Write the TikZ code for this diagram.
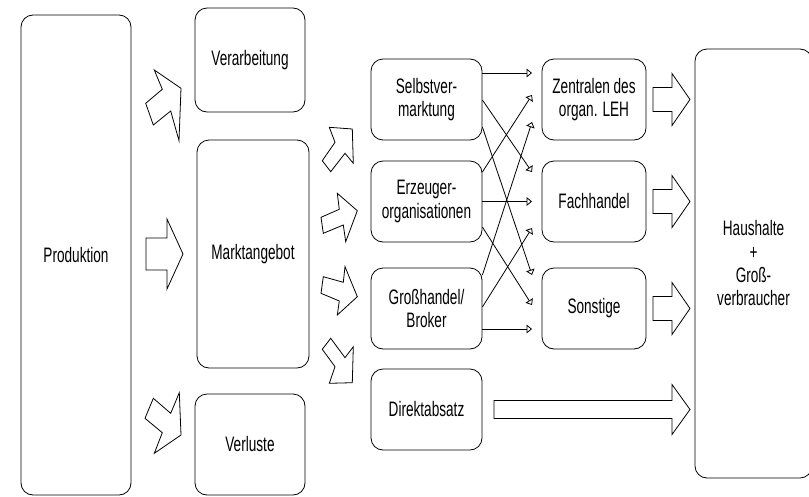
\documentclass[tikz,border=0pt]{standalone}
\usepackage{fontspec}
\setmainfont{Liberation Sans}[FakeStretch=0.65]
\usetikzlibrary{arrows.meta}
\tikzset{
  stelle/.style={draw,rounded corners=9pt,line width=0.6pt,inner sep=0pt,align=center,
    font=\fontsize{15.7}{17.5}\selectfont},
  dims/.style 2 args={minimum width=#1*0.75pt,minimum height=#2*0.75pt},
  blockpfeil/.style={draw,line width=0.6pt,line join=miter},
  fluss/.style={line width=0.6pt,-{Triangle[open,length=4pt,width=6.5pt]}}
}
\begin{document}
\begin{tikzpicture}[x=0.75pt,y=-0.75pt]
\useasboundingbox (0,0) rectangle (809,496);
% Erzeugung
\node[stelle,dims={110}{480}] (Prod) at (76,255) {Produktion};
\node[stelle,dims={110}{104}] (Verarb) at (250,60) {Verarbeitung};
\node[stelle,dims={112}{228}] (Markt) at (253,254) {Marktangebot};
\node[stelle,dims={110}{101}] (Verl) at (250,444.5) {Verluste};
% Absatzwege
\node[stelle,dims={111}{81}] (Selbst) at (426.5,99.5) {Selbstver-\\marktung};
\node[stelle,dims={111}{81}] (Erz) at (426.5,201.5) {Erzeuger-\\organisationen};
\node[stelle,dims={111}{81}] (Gross) at (426.5,308.5) {Gro\ss handel/\\Broker};
\node[stelle,dims={111}{81}] (Direkt) at (426.5,409.5) {Direktabsatz};
% Handel
\node[stelle,dims={104}{81}] (Zentr) at (594,99.5) {Zentralen des\\organ. LEH};
\node[stelle,dims={104}{81}] (Fach) at (594,201.5) {Fachhandel};
\node[stelle,dims={104}{81}] (Sonst) at (594,308.5) {Sonstige};
\node[stelle,dims={117}{429}] (Haus) at (753.5,263.5) {Haushalte\\+\\Gro\ss -\\verbraucher};
%
\coordinate (spitze) at (532,0);
%
% Pfeile Produktion -> Marktstufe
\draw[blockpfeil] (154.3,70) -- (162.3,89.3) -- (145.7,103.3) -- (153.3,125) -- (170.7,111) -- (179,140.7) -- (181,88.3) -- cycle;
\draw[blockpfeil] (146,238) -- (167,238) -- (167,219) -- (183,254) -- (167,289) -- (167,270) -- (146,270) -- cycle;
\draw[blockpfeil] (179.3,392.7) -- (170.7,413.3) -- (153.3,398.3) -- (145,418.3) -- (162.3,432.7) -- (154.3,453.3) -- (181,435) -- cycle;
%
% Pfeile Marktangebot -> Absatzwege
\draw[blockpfeil] (329.3,127.3) -- (352.3,129) -- (353.3,163.3) -- (345,153.3) -- (330.7,171.7) -- (322.3,160.7) -- (335,142.3) -- cycle;
\draw[blockpfeil] (337.3,193.3) -- (357.3,210.7) -- (345.7,241.7) -- (343.3,225) -- (323.3,233.3) -- (321,217.3) -- (339.3,209.3) -- cycle;
\draw[blockpfeil] (345,266.7) -- (357.3,296.7) -- (337.3,315) -- (339.3,301) -- (321,293.3) -- (323.3,276.7) -- (343.3,282.3) -- cycle;
\draw[blockpfeil] (353.3,346.7) -- (352.3,382.7) -- (329.3,383.3) -- (335,366.7) -- (322.3,349.3) -- (330.7,338.3) -- (345,357.7) -- cycle;
%
% Verflechtungen
\draw[fluss] (Selbst.east |- 0,73) -- (spitze |- 0,73);
\draw[fluss] (Selbst.east |- 0,100) -- (spitze |- 0,172);
\draw[fluss] (Selbst.east |- 0,127) -- (spitze |- 0,275);
\draw[fluss] (Erz.east |- 0,172) -- (spitze |- 0,95);
\draw[fluss] (Erz.east |- 0,201.5) -- (spitze |- 0,201.5);
\draw[fluss] (Erz.east |- 0,227) -- (spitze |- 0,305);
\draw[fluss] (Gross.east |- 0,275) -- (spitze |- 0,122);
\draw[fluss] (Gross.east |- 0,307) -- (spitze |- 0,228);
\draw[fluss] (Gross.east |- 0,329) -- (spitze |- 0,329);
%
% Pfeile zum Verbraucher
\draw[blockpfeil] (653,87.5) -- (672,87.5) -- (672,73.5) -- (690,99.5) -- (672,125.5) -- (672,111.5) -- (653,111.5) -- cycle;
\draw[blockpfeil] (653,189.5) -- (672,189.5) -- (672,175.5) -- (690,201.5) -- (672,227.5) -- (672,213.5) -- (653,213.5) -- cycle;
\draw[blockpfeil] (653,296.5) -- (672,296.5) -- (672,282.5) -- (690,308.5) -- (672,334.5) -- (672,320.5) -- (653,320.5) -- cycle;
\draw[blockpfeil] (494,400.5) -- (672,400.5) -- (672,384.5) -- (690,409.5) -- (672,434.5) -- (672,418.5) -- (494,418.5) -- cycle;
\end{tikzpicture}
\end{document}
